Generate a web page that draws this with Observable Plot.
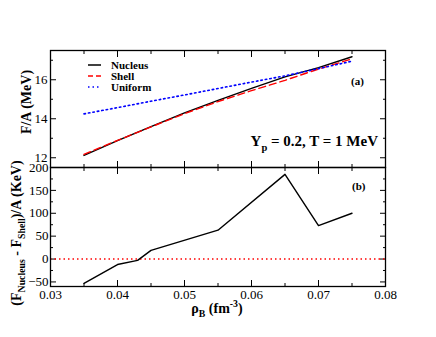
<!DOCTYPE html>
<html><head><meta charset="utf-8">
<script src="https://cdn.jsdelivr.net/npm/d3@7"></script>
<script src="https://cdn.jsdelivr.net/npm/@observablehq/plot@0.6"></script>
<style>
body{margin:0;background:#fff;}
#chart{position:relative;width:436px;height:337px;overflow:hidden;background:#fff;}
#chart svg{position:absolute;left:0;}
#chart svg text{font-family:"Liberation Serif","Times New Roman",serif !important;}
</style></head><body><div id="chart"></div>
<script>
// ---- data (panel a: free energy per baryon, MeV) ----
const rhoA = [0.035, 0.04, 0.045, 0.05, 0.055, 0.06, 0.065, 0.07, 0.075];
const nucleus = [12.12, 12.88, 13.60, 14.30, 14.94, 15.56, 16.15, 16.62, 17.18];
const shell   = [12.17, 12.89, 13.58, 14.26, 14.88, 15.44, 15.97, 16.55, 17.07];
const uniform = [14.25, 14.57, 14.90, 15.22, 15.55, 15.88, 16.20, 16.57, 16.95];
// ---- data (panel b: difference, KeV) ----
const rhoB = [0.035, 0.04, 0.043, 0.045, 0.055, 0.065, 0.07, 0.075];
const diffB = [-53, -12, -3, 19, 63, 185, 73, 100];
const zeroLine = [0];
// ---- ticks ----
const xMajor = [0.03, 0.04, 0.05, 0.06, 0.07, 0.08];
const xMinor = [0.035, 0.045, 0.055, 0.065, 0.075];
const yMajorA = [12, 14, 16];
const yMinorA = [13, 15, 17];
const yMajorB = [-50, 0, 50, 100, 150, 200];
const yMinorB = [-25, 25, 75, 125, 175];
const seriesNames = ["Nucleus", "Shell", "Uniform"];
const seriesColors = ["#000000", "#ff0000", "#0000ff"];
const seriesDash = [null, "7,4", "1.5,3"];

const W = 436, xDomain = [0.03, 0.08];
const font = "Liberation Serif, Times New Roman, serif";
const tableA = [];
rhoA.forEach((r, i) => {
  tableA.push({rho: r, v: nucleus[i], s: "Nucleus"});
  tableA.push({rho: r, v: shell[i], s: "Shell"});
  tableA.push({rho: r, v: uniform[i], s: "Uniform"});
});
const tableB = rhoB.map((r, i) => ({rho: r, v: diffB[i]}));

function tickAxes(kx, ky) {
  const inv = {fill: "none", stroke: "black", label: null, strokeWidth: 1};
  return [
    Plot.axisX(kx.maj, {...inv, anchor: "bottom", tickSize: -6}),
    Plot.axisX(kx.maj, {...inv, anchor: "top", tickSize: -6}),
    Plot.axisX(kx.min, {...inv, anchor: "bottom", tickSize: -3}),
    Plot.axisX(kx.min, {...inv, anchor: "top", tickSize: -3}),
    Plot.axisY(ky.maj, {...inv, anchor: "left", tickSize: -6}),
    Plot.axisY(ky.maj, {...inv, anchor: "right", tickSize: -6}),
    Plot.axisY(ky.min, {...inv, anchor: "left", tickSize: -3}),
    Plot.axisY(ky.min, {...inv, anchor: "right", tickSize: -3})
  ];
}
const style = {fontFamily: font, fontSize: "13px", background: "transparent", overflow: "visible", color: "black"};

const plotA = Plot.plot({
  width: W, height: 167,
  marginTop: 50, marginBottom: 0, marginLeft: 50, marginRight: 51,
  style,
  x: {domain: xDomain},
  y: {domain: [11.5, 17.5]},
  marks: [
    ...tickAxes({maj: xMajor, min: xMinor}, {maj: yMajorA, min: yMinorA}),
    Plot.axisY(yMajorA, {anchor: "left", tickSize: 0, tickPadding: 3, label: null, fontSize: 13}),
    ...seriesNames.map((name, k) => Plot.line(tableA.filter(d => d.s === name), {
      x: "rho", y: "v", stroke: seriesColors[k], strokeWidth: k === 2 ? 1.6 : 1.4,
      strokeDasharray: seriesDash[k]
    })),
    Plot.frame({stroke: "black", strokeWidth: 1.3})
  ]
});
plotA.style.top = "0px";

const plotB = Plot.plot({
  width: W, height: 170,
  marginTop: 0, marginBottom: 51, marginLeft: 50, marginRight: 51,
  style,
  x: {domain: xDomain},
  y: {domain: [-60, 200]},
  marks: [
    ...tickAxes({maj: xMajor, min: xMinor}, {maj: yMajorB, min: yMinorB}),
    Plot.axisY(yMajorB, {anchor: "left", tickSize: 0, tickPadding: 2, label: null, fontSize: 13}),
    Plot.axisX(xMajor, {anchor: "bottom", tickSize: 0, tickPadding: 3, label: null, fontSize: 13, tickFormat: d3.format(".2f")}),
    Plot.ruleY(zeroLine, {stroke: "#ff0000", strokeDasharray: "1.5,3", strokeWidth: 1.5}),
    Plot.line(tableB, {x: "rho", y: "v", stroke: "black", strokeWidth: 1.4}),
    Plot.frame({stroke: "black", strokeWidth: 1.3})
  ]
});
plotB.style.top = "167px";

const chart = document.getElementById("chart");
chart.appendChild(plotA);
chart.appendChild(plotB);
[plotA, plotB].forEach(p => {
  p.setAttribute("font-family", font);
  d3.select(p).selectAll("text, g").attr("font-family", font);
});

// ---- overlay for titles, legend and annotations ----
const ov = d3.select(chart).append("svg")
  .attr("width", W).attr("height", 337)
  .style("top", "0px").style("pointer-events", "none")
  .style("font-family", font);

function addText(x, y, parts, {size = 13, anchor = "start", rotate = 0, weight = "bold"} = {}) {
  const t = ov.append("text")
    .attr("transform", `translate(${x},${y}) rotate(${rotate})`)
    .attr("text-anchor", anchor).attr("font-size", size).attr("font-weight", weight)
    .attr("fill", "black");
  let cur = 0;
  parts.forEach(([str, kind]) => {
    const target = kind === "sub" ? size * 0.3 : kind === "sup" ? -size * 0.4 : 0;
    const ts = t.append("tspan").text(str).attr("dy", target - cur);
    if (kind) ts.attr("font-size", size * 0.7);
    cur = target;
  });
  return t;
}

// axis titles
addText(31, 102, [["F/A (MeV)"]], {size: 14, anchor: "middle", rotate: -90});
addText(21, 233, [["(F"], ["Nucleus", "sub"], [" - F"], ["Shell", "sub"], [")/A (KeV)"]], {size: 14, anchor: "middle", rotate: -90});
addText(217, 313, [["ρ", null], ["B", "sub"], [" (fm"], ["-3", "sup"], [")"]], {size: 14, anchor: "middle"});

// panel labels
addText(351, 85, [["(a)"]], {size: 11});
addText(352, 190, [["(b)"]], {size: 11});
addText(378, 146, [["Y"], ["p", "sub"], [" = 0.2, T = 1 MeV"]], {size: 15, anchor: "end"});

// legend
const legY = [65, 76, 87];
seriesNames.forEach((name, k) => {
  ov.append("line").attr("x1", 88).attr("x2", 101).attr("y1", legY[k]).attr("y2", legY[k])
    .attr("stroke", seriesColors[k]).attr("stroke-width", 1.5)
    .attr("stroke-dasharray", seriesDash[k] === "7,4" ? "5,3" : seriesDash[k]);
  addText(111, legY[k] + 4, [[name]], {size: 11});
});
</script></body></html>
